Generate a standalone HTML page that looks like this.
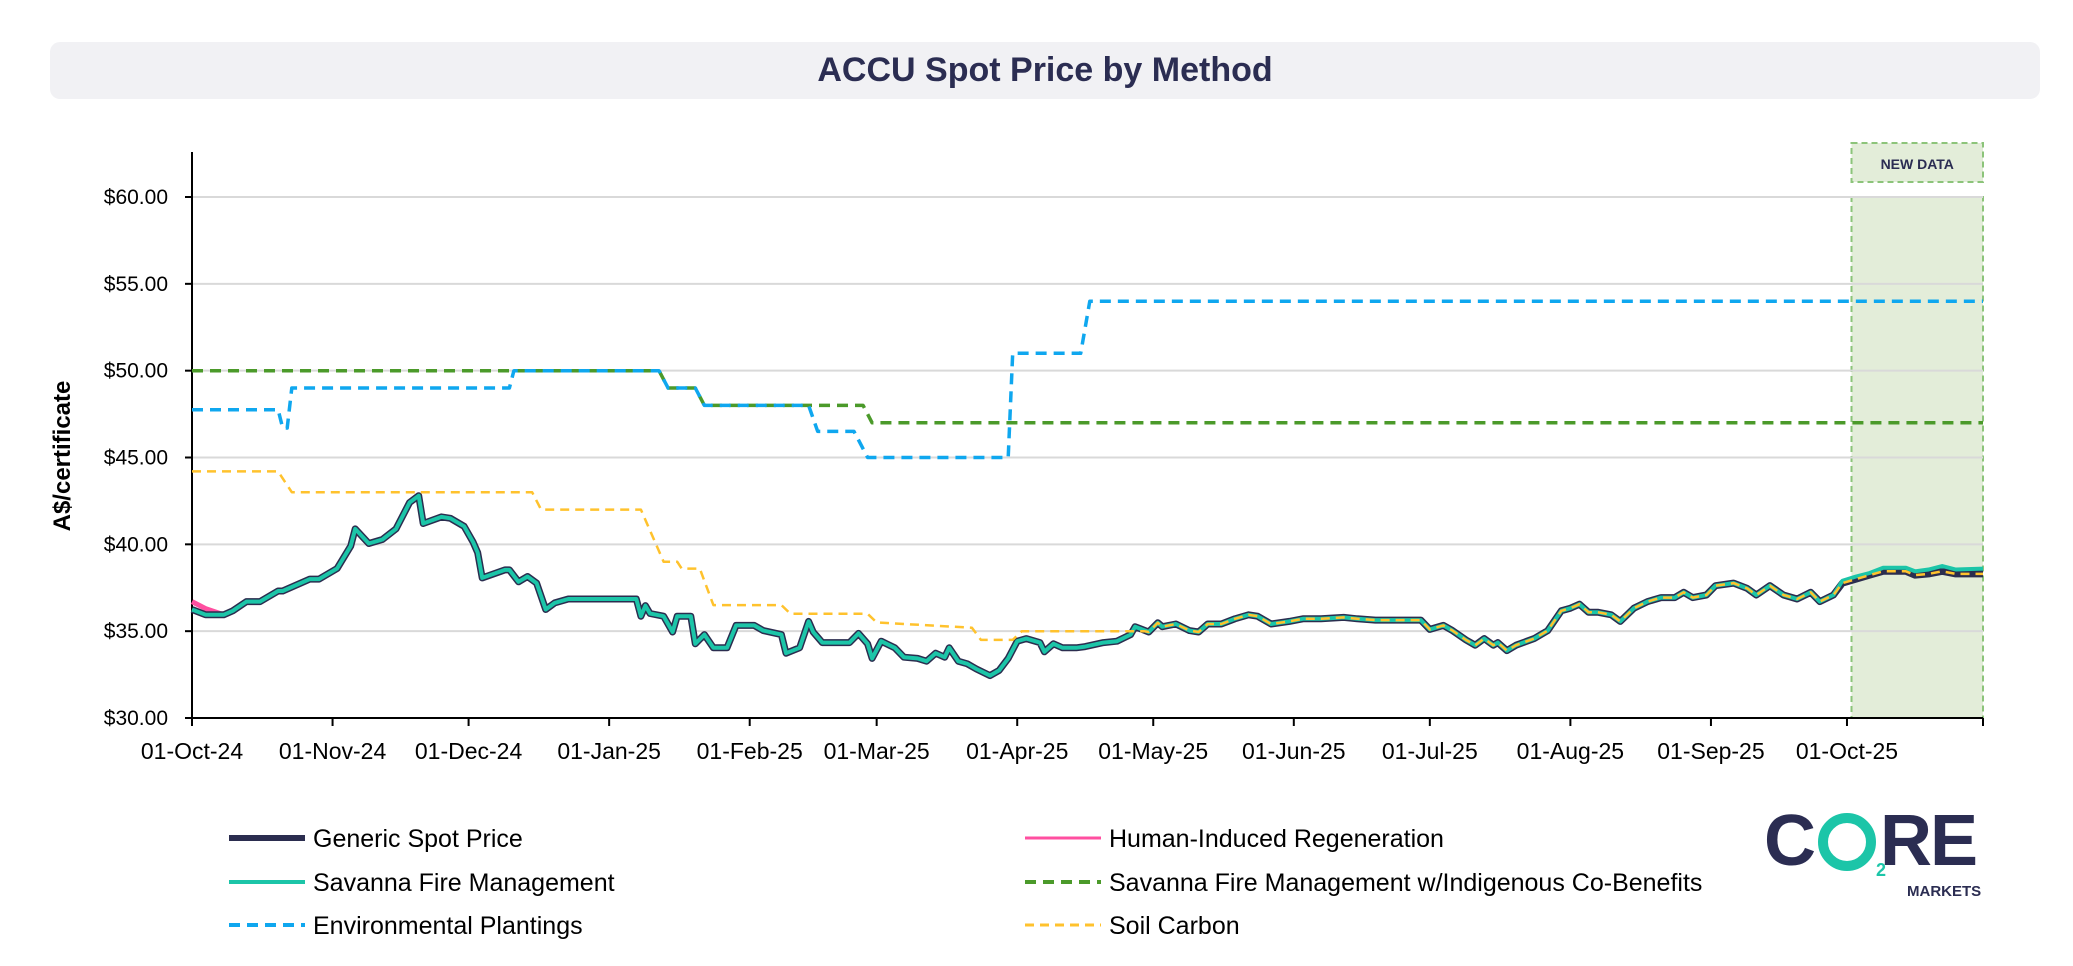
<!DOCTYPE html>
<html><head><meta charset="utf-8"><style>
html,body{margin:0;padding:0;background:#fff;}
body{width:2073px;height:966px;overflow:hidden;position:relative;font-family:"Liberation Sans",sans-serif;}
#title-box{position:absolute;left:50px;top:42px;width:1990px;height:57px;background:#f1f1f4;border-radius:10px;text-align:center;line-height:57px;font-size:34px;font-weight:bold;color:#2b2d52;}
svg{position:absolute;left:0;top:0;}
</style></head><body>
<div id="title-box">ACCU Spot Price by Method</div>
<svg id="chart" width="2073" height="966"></svg>
<script>
const monthLabels=["01-Oct-24","01-Nov-24","01-Dec-24","01-Jan-25","01-Feb-25","01-Mar-25","01-Apr-25","01-May-25","01-Jun-25","01-Jul-25","01-Aug-25","01-Sep-25","01-Oct-25"];
const monthDays=[0,31,61,92,123,151,182,212,243,273,304,335,365];
const yTicks=[30,35,40,45,50,55,60];
const genDays=[0,3,7,9,12,15,19,20,26,28,32,35,36,39,42,45,48,50,51,55,57,60,62,63,64,69,70,72,74,76,78,80,83,98,99,100,101,104,106,107,110,111,113,115,118,120,124,126,130,131,134,136,137,139,145,147,149,150,152,155,157,160,162,164,166,167,169,171,173,176,178,180,182,184,187,188,190,192,195,197,201,204,207,208,211,213,214,217,220,222,224,227,230,233,235,238,242,245,249,254,257,261,271,273,276,278,281,283,285,287,288,290,292,296,299,302,304,306,308,310,313,315,318,321,324,327,329,331,334,336,340,343,345,348,351,354,357,359,362,364,367,370,373,378,380,383,386,389,395];
const genVals=[36.25,35.94,35.94,36.17,36.70,36.70,37.31,37.31,38.00,38.00,38.61,39.90,40.89,40.05,40.28,40.89,42.41,42.80,41.20,41.58,41.50,41.04,40.13,39.52,38.07,38.53,38.53,37.84,38.15,37.77,36.25,36.63,36.85,36.85,35.86,36.47,36.02,35.86,34.95,35.86,35.86,34.27,34.80,34.04,34.04,35.33,35.33,35.03,34.80,33.73,34.04,35.56,34.95,34.34,34.34,34.87,34.27,33.43,34.42,34.04,33.50,33.43,33.27,33.73,33.50,34.04,33.27,33.12,32.82,32.44,32.74,33.43,34.42,34.57,34.34,33.81,34.27,34.04,34.04,34.11,34.34,34.42,34.80,35.26,34.95,35.48,35.26,35.41,35.03,34.95,35.41,35.41,35.71,35.94,35.86,35.41,35.56,35.71,35.71,35.79,35.71,35.64,35.64,35.10,35.33,35.03,34.49,34.19,34.57,34.19,34.34,33.88,34.19,34.57,35.03,36.17,36.32,36.55,36.09,36.09,35.94,35.56,36.32,36.70,36.93,36.93,37.24,36.93,37.08,37.62,37.77,37.46,37.08,37.62,37.08,36.85,37.24,36.70,37.08,37.77,38.00,38.23,38.45,38.45,38.23,38.30,38.45,38.30,38.30];
const savVals=genVals.slice(0,139).concat([37.90,38.15,38.35,38.65,38.65,38.45,38.55,38.75,38.55,38.60]);
const hirVals=[36.70,36.30].concat(genVals.slice(2,139)).concat([37.80,38.05,38.25,38.55,38.55,38.35,38.45,38.55,38.45,38.45]);
const soilStepDays=[0,19,22,75,77,99,104,107,108,112,115,130,132,149,151,172,174,181,183,210];
const soilStepVals=[44.2,44.2,43.0,43.0,42.0,42.0,39.0,39.0,38.6,38.6,36.5,36.5,36.0,36.0,35.5,35.2,34.5,34.5,35.0,35.0];
const envDays=[0,19,20,21,22,70,71,103,105,111,113,136,138,146,149,180,181,196,198,395];
const envVals=[47.75,47.75,46.7,46.7,49.0,49.0,50.0,50.0,49.0,49.0,48.0,48.0,46.5,46.5,45.0,45.0,51.0,51.0,54.0,54.0];
const indDays=[0,103,105,111,113,148,150,395];
const indVals=[50,50,49,49,48,48,47,47];
const newDataStart=366, newDataEnd=395;

const X0=192,X1=1983,D1=395,Y0=718,Y1=197;
const xs=d=>X0+(X1-X0)*d/D1;
const ys=v=>Y0-(Y0-Y1)*(v-30)/30;
const svg=document.getElementById('chart');
const NS='http://www.w3.org/2000/svg';
function mk(tag,attrs,parent){const e=document.createElementNS(NS,tag);for(const k in attrs)e.setAttribute(k,attrs[k]);(parent||svg).appendChild(e);return e;}

const sh=mk('rect',{x:xs(newDataStart),y:ys(60),width:xs(newDataEnd)-xs(newDataStart),height:ys(30)-ys(60),fill:'#e3edd9',stroke:'#8cc47a','stroke-width':2,'stroke-dasharray':'6 4'});


const nb=mk('rect',{x:xs(newDataStart),y:143,width:xs(newDataEnd)-xs(newDataStart),height:39,fill:'#e3edd9',stroke:'#8cc47a','stroke-width':2,'stroke-dasharray':'6 4'});


const nt=mk('text',{x:(xs(newDataStart)+xs(newDataEnd))/2,y:169,'text-anchor':'middle','font-size':14,'font-weight':'bold',fill:'#2b2d52','font-family':'Liberation Sans, sans-serif'});
nt.textContent='NEW DATA';



yTicks.forEach(v=>{
  if(v>30){const g=mk('line',{x1:X0,x2:X1,y1:ys(v),y2:ys(v),stroke:'#d9d9d9','stroke-width':2});
  
  }
  mk('line',{x1:X0-7,x2:X0,y1:ys(v),y2:ys(v),stroke:'#000','stroke-width':2});
  const t=mk('text',{x:168,y:ys(v)+7,'text-anchor':'end','font-size':21,fill:'#000','font-family':'Liberation Sans, sans-serif'});
  t.textContent='$'+v.toFixed(2);
  
  
});
monthDays.forEach((d,i)=>{
  mk('line',{x1:xs(d),x2:xs(d),y1:Y0,y2:Y0+8,stroke:'#000','stroke-width':2});
  const t=mk('text',{x:xs(d),y:759,'text-anchor':'middle','font-size':23,fill:'#000','font-family':'Liberation Sans, sans-serif'});
  t.textContent=monthLabels[i];
  
  
});
mk('line',{x1:X1,x2:X1,y1:Y0,y2:Y0+8,stroke:'#000','stroke-width':2});
const ax=mk('path',{d:`M${X0} 152 L${X0} ${Y0} L${X1} ${Y0}`,fill:'none',stroke:'#000','stroke-width':2});


const yt=mk('text',{transform:'translate(70,456) rotate(-90)','text-anchor':'middle','font-size':24,'font-weight':'bold',fill:'#000','font-family':'Liberation Sans, sans-serif'});
yt.textContent='A$/certificate';



function path(days,vals,stroke,w,dash,name){
  const d=days.map((dd,i)=>(i?'L':'M')+xs(dd).toFixed(1)+' '+ys(vals[i]).toFixed(1)).join(' ');
  const p=mk('path',{d:d,fill:'none',stroke:stroke,'stroke-width':w,'stroke-linejoin':'round'});
  if(dash)p.setAttribute('stroke-dasharray',dash);
  
  
}
path(indDays,indVals,'#4b9a2a',3.5,'11 7','savanna-indigenous-line');
path(envDays,envVals,'#0fa7ef',3.5,'11 7','environmental-plantings-line');
path(genDays,hirVals,'#ff4fa0',5,null,'human-induced-regeneration-line');
path(genDays,genVals,'#2b2d4f',7,null,'generic-spot-price-line');
path(genDays,savVals,'#1cc5a8',4,null,'savanna-fire-management-line');
const soilDays=soilStepDays.concat(genDays.slice(84));
const soilVals=soilStepVals.concat(genVals.slice(84));
path(soilDays,soilVals,'#ffc22d',2.5,'9 6','soil-carbon-line');

const leg=[['Generic Spot Price','#2b2d4f',6,null,229,838],['Human-Induced Regeneration','#ff4fa0',3,null,1025,838],['Savanna Fire Management','#1cc5a8',4,null,229,882],['Savanna Fire Management w/Indigenous Co-Benefits','#4b9a2a',4,'11 7',1025,882],['Environmental Plantings','#0fa7ef',4,'11 7',229,925],['Soil Carbon','#ffc22d',3,'9 6',1025,925]];
leg.forEach(l=>{
  const g=mk('g',{});
  
  
  const ln=mk('line',{x1:l[4],x2:l[4]+76,y1:l[5],y2:l[5],stroke:l[1],'stroke-width':l[2]},g);
  if(l[3])ln.setAttribute('stroke-dasharray',l[3]);
  const t=mk('text',{x:l[4]+84,y:l[5]+9,'font-size':25,fill:'#000','font-family':'Liberation Sans, sans-serif'},g);
  t.textContent=l[0];
});
</script>
<div style="position:absolute;left:1764px;top:806px;width:225px;height:100px;">
  <div style="position:absolute;left:0;top:0;font-size:72px;font-weight:bold;color:#2b2d52;letter-spacing:-2px;line-height:70px;white-space:nowrap;">C<span style="display:inline-block;width:66px;text-align:center;"><span style="display:inline-block;width:58px;height:58px;border:10px solid #1cc5a8;border-radius:50%;box-sizing:border-box;vertical-align:-6px"></span></span>RE</div>
  <div style="position:absolute;left:112px;top:54px;font-size:18px;font-weight:bold;color:#1cc5a8;">2</div>
  <div style="position:absolute;left:143px;top:77px;font-size:15px;font-weight:bold;color:#2b2d52;">MARKETS</div>
</div>
</body></html>
